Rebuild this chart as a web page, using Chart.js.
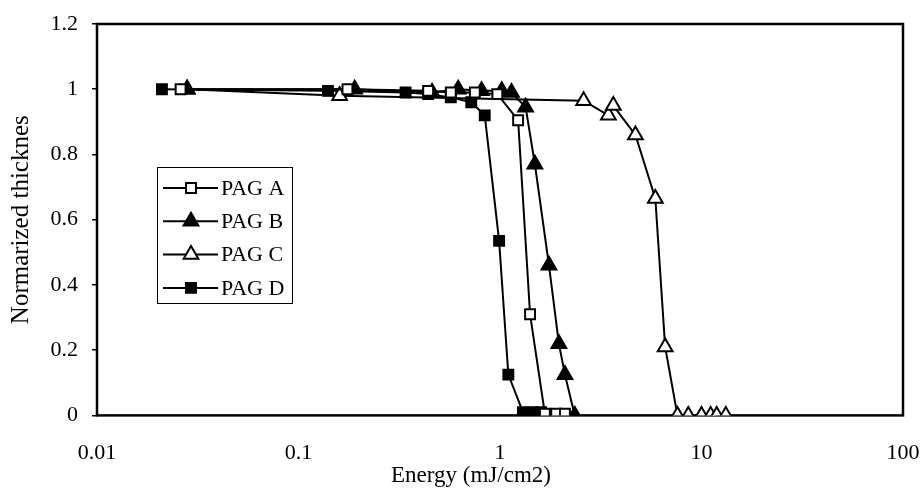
<!DOCTYPE html>
<html>
<head>
<meta charset="utf-8">
<script src="https://cdn.jsdelivr.net/npm/chart.js@4.4.0/dist/chart.umd.min.js"></script>
<style>
  html, body { margin: 0; padding: 0; background: #fff; }
  #chart { display: block; }
</style>
</head>
<body>
<canvas id="chart" width="924" height="491"></canvas>
<script>
// values
const energyA = [0.026, 0.175, 0.44, 0.57, 0.75, 0.97, 1.23, 1.41, 1.67, 1.9, 2.1];
const thickA  = [1.0, 1.0, 0.995, 0.99, 0.99, 0.985, 0.905, 0.31, 0.005, 0.005, 0.005];

const energyB = [0.028, 0.19, 0.46, 0.62, 0.81, 1.02, 1.14, 1.34, 1.49, 1.75, 1.96, 2.1, 2.35];
const thickB  = [1.0, 1.0, 0.99, 1.0, 0.995, 0.995, 0.99, 0.945, 0.77, 0.46, 0.22, 0.125, 0.0];

const energyC = [0.028, 0.16, 2.6, 3.45, 3.65, 4.7, 5.9, 6.6, 7.6, 8.6, 10.0, 11.1, 11.9, 13.2];
const thickC  = [1.0, 0.98, 0.965, 0.92, 0.95, 0.86, 0.665, 0.21, 0, 0, 0, 0, 0, 0];

const energyD = [0.021, 0.14, 0.34, 0.44, 0.57, 0.72, 0.84, 0.99, 1.1, 1.3, 1.45, 1.6];
const thickD  = [1.0, 0.995, 0.99, 0.985, 0.975, 0.96, 0.92, 0.535, 0.125, 0.01, 0.01, 0.01];

const seriesNames = ['PAG A', 'PAG B', 'PAG C', 'PAG D'];
const xTickValues = [0.01, 0.1, 1, 10, 100];
const yTickValues = [0, 0.2, 0.4, 0.6, 0.8, 1, 1.2];

const FONT = "'Liberation Serif', 'Times New Roman', serif";

function pts(xs, ys) {
  return xs.map((x, i) => ({ x: x, y: ys[i] }));
}

function series(label, xs, ys, style, filled, r) {
  return {
    label: label,
    data: pts(xs, ys),
    borderColor: '#000',
    borderWidth: 2,
    pointStyle: style,
    pointRadius: r,
    pointHoverRadius: r,
    pointBorderWidth: 2,
    pointBorderColor: '#000',
    pointBackgroundColor: filled ? '#000' : '#fff',
    tension: 0,
    fill: false
  };
}

// marker drawing for the legend box
function marker(ctx, style, x, y, r, filled) {
  ctx.beginPath();
  if (style === 'rect') {
    const s = Math.SQRT1_2 * r;
    ctx.rect(x - s, y - s, 2 * s, 2 * s);
  } else {
    for (let k = 0; k < 3; k++) {
      const a = k * 2 * Math.PI / 3;
      const px = x + Math.sin(a) * r, py = y - Math.cos(a) * r;
      if (k === 0) ctx.moveTo(px, py); else ctx.lineTo(px, py);
    }
    ctx.closePath();
  }
  ctx.fillStyle = filled ? '#000' : '#fff';
  ctx.fill();
  ctx.lineWidth = 2;
  ctx.strokeStyle = '#000';
  ctx.stroke();
}

const frame = {
  id: 'frame',
  beforeDatasetsDraw(chart) {
    const a = chart.chartArea, ctx = chart.ctx;
    ctx.save();
    ctx.lineWidth = 2.5;
    ctx.strokeStyle = '#000';
    ctx.strokeRect(a.left, a.top, a.right - a.left, a.bottom - a.top);
    ctx.restore();
  },
  afterDraw(chart) {
    const ctx = chart.ctx;
    const bx = 157, by = 167, bw = 135, bh = 136;
    ctx.save();
    ctx.fillStyle = '#fff';
    ctx.fillRect(bx, by, bw, bh);
    ctx.lineWidth = 1;
    ctx.strokeStyle = '#000';
    ctx.strokeRect(bx + 0.5, by + 0.5, bw, bh);
    ctx.font = '22px ' + FONT;
    ctx.textBaseline = 'middle';
    chart.data.datasets.forEach((ds, i) => {
      const y = by + 21 + i * 33.3;
      ctx.beginPath();
      ctx.moveTo(bx + 6, y);
      ctx.lineTo(bx + 61, y);
      ctx.lineWidth = 2;
      ctx.strokeStyle = '#000';
      ctx.stroke();
      marker(ctx, ds.pointStyle, bx + 34, y, ds.pointRadius, ds.pointBackgroundColor === '#000');
      ctx.fillStyle = '#000';
      ctx.fillText(ds.label, bx + 64, y + 1);
    });
    ctx.restore();
  }
};

new Chart(document.getElementById('chart'), {
  type: 'line',
  data: {
    datasets: [
      series(seriesNames[0], energyA, thickA, 'rect', false, 7),
      series(seriesNames[1], energyB, thickB, 'triangle', true, 8.5),
      series(seriesNames[2], energyC, thickC, 'triangle', false, 8.5),
      series(seriesNames[3], energyD, thickD, 'rect', true, 7)
    ]
  },
  options: {
    responsive: false,
    animation: false,
    layout: { padding: { top: 24, right: 21, bottom: 0, left: 39 } },
    plugins: {
      legend: { display: false },
      tooltip: { enabled: false },
      title: {
        display: true,
        position: 'bottom',
        text: 'Energy (mJ/cm2)',
        color: '#000',
        font: { family: FONT, size: 23, weight: 'normal' },
        padding: { top: 0, bottom: 1 }
      }
    },
    scales: {
      x: {
        type: 'logarithmic',
        min: 0.01,
        max: 100,
        afterBuildTicks: s => { s.ticks = xTickValues.map(v => ({ value: v })); },
        afterFit: s => { s.height = 47; s.paddingLeft = 0; s.paddingRight = 0; },
        border: { display: false },
        grid: { drawOnChartArea: false, drawTicks: false },
        ticks: {
          autoSkip: false,
          maxRotation: 0,
          padding: 25,
          color: '#000',
          font: { family: FONT, size: 22 },
          callback: v => String(v)
        }
      },
      y: {
        min: 0,
        max: 1.2,
        afterBuildTicks: s => { s.ticks = yTickValues.map(v => ({ value: v })); },
        afterFit: s => { s.width = 58; s.paddingTop = 0; s.paddingBottom = 0; },
        border: { display: false },
        grid: { drawOnChartArea: false, drawTicks: true, tickLength: 5, color: '#000', lineWidth: 1.5 },
        ticks: {
          padding: 14,
          color: '#000',
          font: { family: FONT, size: 22 },
          callback: v => String(+v.toFixed(1))
        },
        title: {
          display: true,
          text: 'Normarized thicknes',
          color: '#000',
          font: { family: FONT, size: 25 },
          padding: { top: -33, bottom: 0 }
        }
      }
    }
  },
  plugins: [frame]
});
</script>
</body>
</html>
